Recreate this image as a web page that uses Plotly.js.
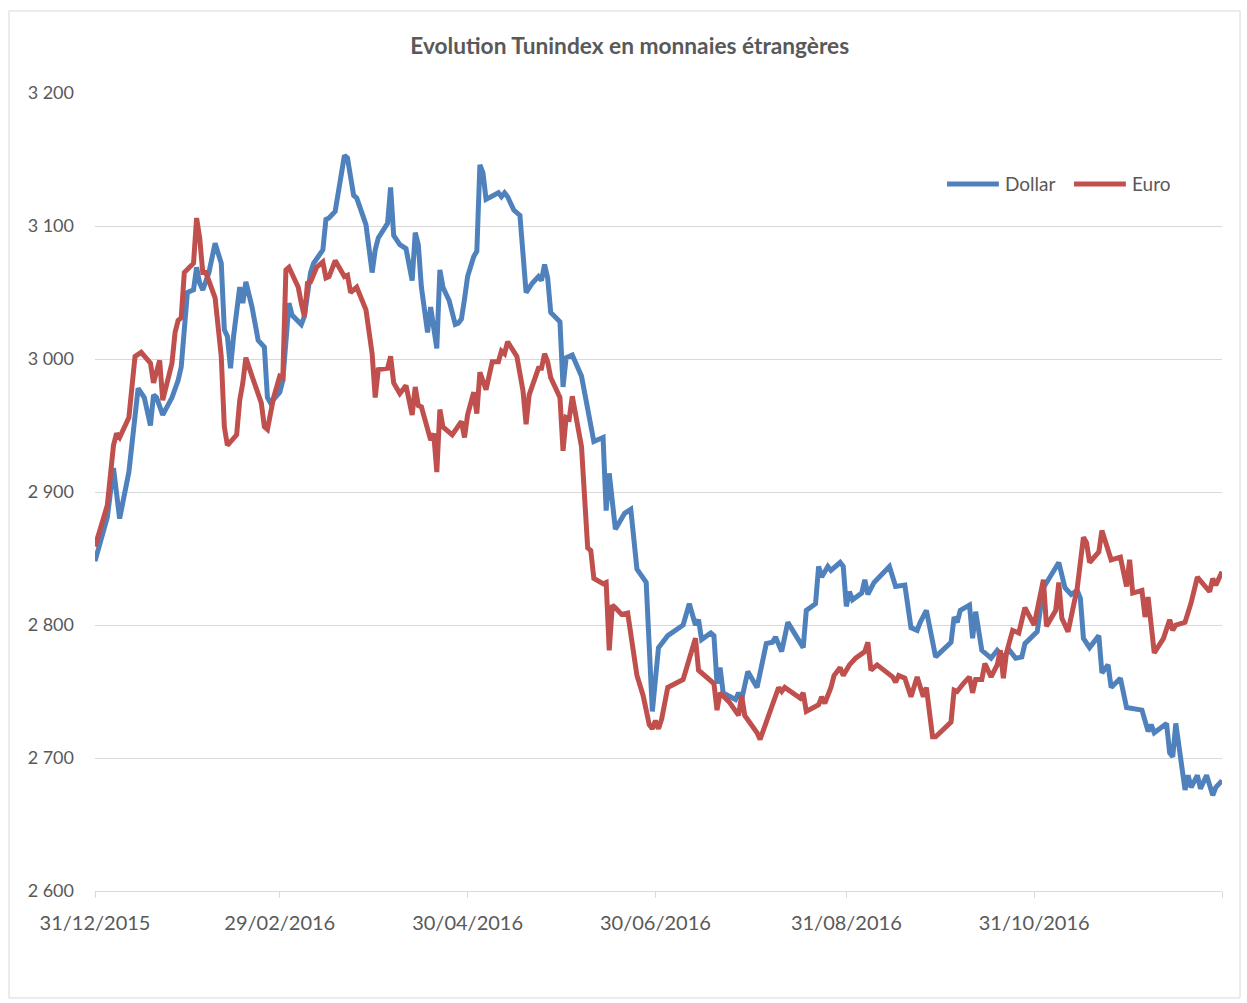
<!DOCTYPE html>
<html>
<head>
<meta charset="utf-8">
<script src="https://cdn.plot.ly/plotly-3.0.1.min.js"></script>
<style>
  html, body { margin: 0; padding: 0; background: #fff; }
  #graph { width: 1247px; height: 1003px; }
</style>
</head>
<body>
<div id="graph"></div>
<script>
// days counted from 31/12/2015
const dollarDays = [0,4,6,8,11,14,16,18,19,20,22,25,27,28,30,32,33,34,35,37,39,41,42,43,44,45,47,48,49,51,53,55,56,57,
  60,61,63,64,67,68,70,71,74,75,76,78,81,82,84,85,88,90,91,92,95,96,97,99,101,103,104,105,106,108,109,111,112,113,115,117,118,119,120,121,
  123,124,125,126,127,129,131,132,133,134,136,138,139,140,142,144,145,146,147,148,151,152,153,155,158,161,162,165,166,167,169,172,174,176,179,181,
  183,186,191,193,195,196,197,200,201,202,203,204,208,209,210,212,215,218,220,221,223,225,230,231,234,235,236,238,239,242,243,
  244,245,246,249,250,251,253,258,260,263,265,267,268,270,273,276,278,279,280,281,284,285,286,288,291,293,295,297,299,301,302,
  306,308,313,315,317,319,320,321,323,326,327,329,330,333,335,340,342,343,344,348,349,350,351,354,355,356,358,359,361,363,364,366];
const dollarValues = [2848,2881,2918,2880,2915,2978,2971,2950,2973,2971,2958,2971,2984,2994,3050,3052,3069,3057,3052,3065,3087,3072,3022,3017,2993,3017,3054,3042,3058,3039,3014,3009,2971,2967,
  2975,2984,3042,3033,3026,3032,3065,3072,3082,3105,3106,3111,3153,3151,3123,3121,3101,3065,3082,3091,3102,3129,3093,3086,3083,3059,3095,3086,3054,3020,3039,3008,3067,3054,3044,3026,3027,3030,3045,3062,
  3077,3081,3146,3140,3120,3123,3125,3122,3125,3122,3112,3108,3075,3050,3057,3062,3059,3071,3061,3035,3028,2979,3001,3003,2987,2948,2938,2941,2886,2914,2872,2884,2887,2842,2832,2735,
  2783,2792,2800,2816,2800,2804,2789,2794,2792,2756,2768,2749,2744,2749,2744,2765,2753,2786,2787,2791,2780,2802,2783,2811,2816,2844,2836,2844,2841,2847,2844,
  2814,2825,2819,2824,2834,2823,2832,2844,2829,2830,2798,2796,2802,2811,2776,2783,2787,2806,2802,2811,2815,2790,2810,2781,2775,2781,2776,2781,2775,2776,2786,
  2795,2828,2847,2828,2823,2826,2820,2790,2783,2792,2764,2770,2753,2760,2738,2736,2720,2725,2719,2726,2704,2701,2726,2676,2687,2678,2687,2677,2687,2672,2678,2683];

const euroDays = [0,4,6,7,8,11,13,15,18,19,21,22,25,26,27,28,29,32,33,34,35,36,39,41,42,43,46,47,48,49,51,54,55,56,58,
  60,61,62,63,66,67,68,69,70,72,74,75,76,78,81,82,83,85,88,90,91,92,95,96,97,99,101,103,104,105,106,109,110,111,112,113,116,119,120,121,
  123,124,125,127,129,131,132,133,134,137,139,140,141,144,145,146,147,148,150,151,152,153,154,155,158,160,161,162,165,166,167,168,169,171,173,176,178,180,
  181,182,183,184,186,191,195,196,201,202,203,206,209,210,211,215,216,217,218,222,223,224,229,230,231,235,236,237,239,240,242,243,
  245,247,250,251,252,254,259,260,261,263,265,267,269,270,272,273,278,279,280,282,284,285,286,288,289,291,293,294,295,296,298,300,
  302,305,308,309,312,313,314,316,319,321,322,323,325,326,327,329,330,333,335,336,337,340,341,342,344,347,349,350,351,354,356,358,362,363,364,366];
const euroValues = [2859,2890,2935,2944,2941,2956,3002,3005,2997,2982,2999,2969,2997,3020,3029,3031,3065,3072,3106,3091,3065,3065,3046,3002,2949,2935,2943,2969,2982,3001,2987,2967,2949,2947,2971,
  2987,2986,3067,3069,3054,3042,3032,3057,3058,3069,3073,3061,3062,3074,3062,3063,3050,3054,3037,3004,2971,2992,2993,3002,2982,2974,2980,2958,2979,2965,2964,2939,2944,2915,2962,2949,2943,2953,2941,2958,
  2975,2959,2990,2977,2998,2998,3006,3004,3013,3002,2976,2951,2973,2993,2993,3004,2998,2986,2976,2971,2931,2956,2955,2972,2934,2858,2856,2835,2831,2832,2781,2815,2813,2808,2809,2762,2747,2725,
  2722,2728,2722,2729,2753,2759,2790,2766,2756,2736,2749,2742,2732,2747,2732,2719,2714,2722,2727,2753,2750,2753,2745,2749,2735,2740,2746,2741,2753,2762,2768,2762,
  2770,2775,2780,2787,2766,2770,2761,2757,2762,2760,2746,2761,2746,2753,2716,2716,2727,2751,2750,2756,2761,2749,2759,2759,2771,2761,2770,2781,2760,2779,2796,2794,
  2813,2800,2834,2799,2811,2832,2805,2795,2828,2866,2862,2847,2853,2855,2871,2858,2849,2851,2829,2849,2824,2826,2806,2821,2779,2790,2804,2796,2800,2802,2817,2836,2825,2835,2830,2840];

const tickDates = ['2015-12-31', '2016-02-29', '2016-04-30', '2016-06-30', '2016-08-31', '2016-10-31', '2016-12-31'];
const yTicks = [2600, 2700, 2800, 2900, 3000, 3100, 3200];
const seriesNames = ['Dollar', 'Euro'];
const seriesColors = ['#4F81BD', '#C0504D'];

function dayToDate(d) {
    const t = Date.UTC(2015, 11, 31) + d * 86400000;
    return new Date(t).toISOString().slice(0, 10);
}

function frDate(s) {
    const p = s.split('-');
    return p[2] + '/' + p[1] + '/' + p[0];
}

const textColor = '#595959';
const font = 'Lato, "Open Sans", sans-serif';

let data = [
    {
        x: dollarDays.map(dayToDate),
        y: dollarValues,
        type: 'scatter',
        mode: 'lines',
        name: seriesNames[0],
        line: {color: seriesColors[0], width: 5}
    },
    {
        x: euroDays.map(dayToDate),
        y: euroValues,
        type: 'scatter',
        mode: 'lines',
        name: seriesNames[1],
        line: {color: seriesColors[1], width: 5}
    }
];

// legend drawn by hand so the sample lines are as long as in the original
const legendY = 0.886;
const legendStarts = [0.756, 0.8687];
const legendLineLen = 0.046;
let legendShapes = [];
let legendLabels = [];
seriesNames.forEach((name, i) => {
    const x0 = legendStarts[i];
    legendShapes.push({
        type: 'line', xref: 'paper', yref: 'paper',
        x0: x0, x1: x0 + legendLineLen, y0: legendY, y1: legendY,
        line: {color: seriesColors[i], width: 5}
    });
    legendLabels.push({
        xref: 'paper', yref: 'paper',
        x: x0 + legendLineLen + 0.004, y: legendY,
        xanchor: 'left', yanchor: 'middle',
        text: name, showarrow: false,
        font: {family: font, size: 19, color: textColor}
    });
});

let layout = {
    width: 1247,
    height: 1003,
    margin: {l: 95, r: 25, t: 93, b: 112},
    paper_bgcolor: '#ffffff',
    plot_bgcolor: '#ffffff',
    separators: ', ',
    font: {family: font, color: textColor},
    title: {
        text: '<b>Evolution Tunindex en monnaies étrangères</b>',
        font: {family: font, size: 22.7, color: textColor},
        xref: 'container', x: 0.505, xanchor: 'center',
        yref: 'container', y: 0.954, yanchor: 'middle'
    },
    showlegend: false,
    xaxis: {
        type: 'date',
        range: ['2015-12-31', '2016-12-31'],
        tickvals: tickDates,
        ticktext: tickDates.map((d, i) => i === tickDates.length - 1 ? '' : frDate(d)),
        ticks: 'outside',
        ticklen: 6,
        tickcolor: '#D9D9D9',
        ticklabelstandoff: 8,
        showgrid: false,
        showline: true,
        linecolor: '#D9D9D9',
        linewidth: 1,
        zeroline: false,
        tickfont: {family: font, size: 20, color: textColor}
    },
    yaxis: {
        range: [2600, 3200],
        tickvals: yTicks,
        tickformat: ',d',
        ticks: '',
        ticklabelstandoff: 20,
        showgrid: true,
        gridcolor: '#D9D9D9',
        gridwidth: 1,
        showline: false,
        zeroline: false,
        tickfont: {family: font, size: 18, color: textColor}
    },
    annotations: legendLabels,
    shapes: [
        {
            type: 'rect', xref: 'paper', yref: 'paper',
            x0: -0.0763, x1: 1.016, y0: -0.134, y1: 1.1028,
            line: {color: '#D9D9D9', width: 1},
            fillcolor: 'rgba(0,0,0,0)',
            layer: 'below'
        }
    ].concat(legendShapes)
};

let config = {
    displaylogo: false,
    displayModeBar: false,
    responsive: false
};

Plotly.newPlot('graph', data, layout, config);
</script>
</body>
</html>
